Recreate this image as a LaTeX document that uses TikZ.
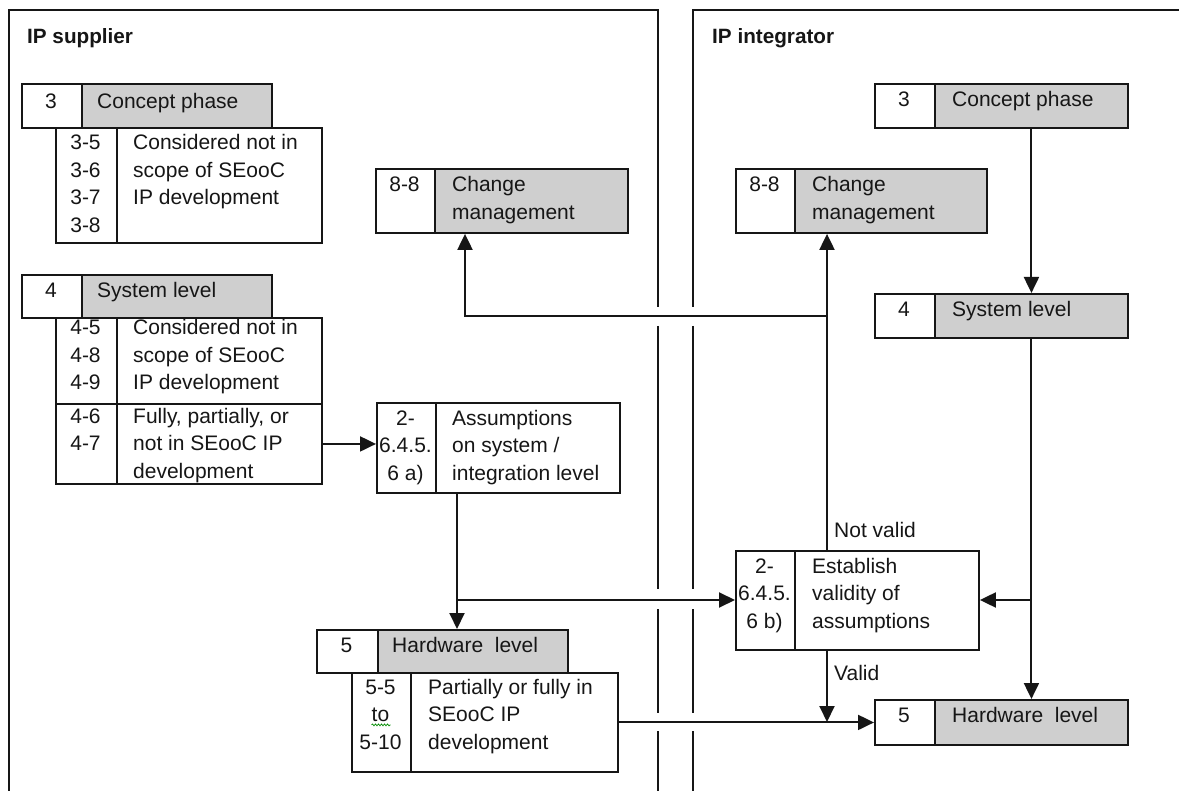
\documentclass[tikz,border=0pt]{standalone}
\usepackage{fontspec}
\setmainfont{Liberation Sans}
\usetikzlibrary{arrows.meta,decorations.pathmorphing}
\definecolor{boxgray}{RGB}{207,207,207}
\definecolor{ink}{RGB}{22,22,22}
\tikzset{
  cell/.style={draw=ink, line width=1.9pt, inner sep=0pt, anchor=north west, fill=white},
  gcell/.style={cell, fill=boxgray},
  txt/.style={inner sep=0pt, text=ink, font=\fontsize{21}{24}\selectfont},
  ttl/.style={txt, font=\fontsize{20.7}{24}\selectfont\bfseries},
  arr/.style={draw=ink, line width=2pt, -{Triangle[length=16pt,width=15pt]}},
  ln/.style={draw=ink, line width=1.7pt},
}
% \cell{name}{x1}{y1}{x2}{y2}{style}
\newcommand\cell[6]{\node[#6, minimum width={#4-#2}, minimum height={#5-#3}] (#1) at (#2,#3) {};}
% \tlines{name}{anchor}{x}{first cap-centre y}{lines}
\newcommand\tlines[5]{\foreach \mytext [count=\myi] in {#5}{\node[txt, anchor=#2] (#1-\myi) at (#3,{#4+7.4+27.5*(\myi-1)}) {\mytext};}}
\begin{document}
\begin{tikzpicture}[x=1pt,y=-1pt]
\useasboundingbox (0,0) rectangle (1179,791);
\fill[white] (0,0) rectangle (1179,791);

% panels
\draw[ln] (9,791) -- (9,10) -- (658,10) -- (658,307);
\draw[ln] (658,326) -- (658,589);
\draw[ln] (658,609) -- (658,713);
\draw[ln] (658,731) -- (658,791);
\draw[ln] (693,307) -- (693,10) -- (1179,10);
\draw[ln] (693,326) -- (693,589);
\draw[ln] (693,609) -- (693,713);
\draw[ln] (693,731) -- (693,791);
\node[ttl, anchor=base west] (tsup) at (27,44) {IP supplier};
\node[ttl, anchor=base west] (tint) at (712,44) {IP integrator};

% ---------- IP supplier ----------
\cell{L3n}{21}{83}{81}{127}{cell}
\cell{L3t}{81}{83}{271}{127}{gcell}
\cell{L3a}{55}{127}{116}{242}{cell}
\cell{L3b}{116}{127}{321}{242}{cell}
\node[txt, anchor=base] (L3nT) at (51,108.9) {3};
\node[txt, anchor=base west] (L3tT) at (97,108.9) {Concept phase};
\tlines{L3aT}{base}{85.5}{142.5}{3-5,3-6,3-7,3-8}
\tlines{L3bT}{base west}{133}{142.5}{Considered not in,scope of SEooC,IP development}

\cell{L4n}{21}{274}{81}{317}{cell}
\cell{L4t}{81}{274}{271}{317}{gcell}
\cell{L4a}{55}{317}{116}{403}{cell}
\cell{L4b}{116}{317}{321}{403}{cell}
\cell{L4c}{55}{403}{116}{483}{cell}
\cell{L4d}{116}{403}{321}{483}{cell}
\node[txt, anchor=base] (L4nT) at (51,297.9) {4};
\node[txt, anchor=base west] (L4tT) at (97,297.9) {System level};
\tlines{L4aT}{base}{85.5}{327.5}{4-5,4-8,4-9}
\tlines{L4bT}{base west}{133}{327.5}{Considered not in,scope of SEooC,IP development}
\tlines{L4cT}{base}{85.5}{416}{4-6,4-7}
\tlines{L4dT}{base west}{133}{416}{{Fully, partially, or},not in SEooC IP,development}

\cell{Cn}{375}{168}{434}{232}{cell}
\cell{Ct}{434}{168}{627}{232}{gcell}
\tlines{CnT}{base}{404.5}{184.5}{8-8}
\tlines{CtT}{base west}{452}{184.5}{Change,management}

\cell{An}{376}{402}{435}{492}{cell}
\cell{At}{435}{402}{619}{492}{cell}
\tlines{AnT}{base}{405.5}{418}{2-,6.4.5.,6 a)}
\tlines{AtT}{base west}{452}{418}{Assumptions,on system /,integration level}

\cell{LHn}{316}{629}{377}{672}{cell}
\cell{LHt}{377}{629}{567}{672}{gcell}
\cell{LHa}{351}{672}{410}{771}{cell}
\cell{LHb}{410}{672}{617}{771}{cell}
\node[txt, anchor=base] (LHnT) at (346.5,652.4) {5};
\node[txt, anchor=base west] (LHtT) at (392,652.4) {Hardware\ \ level};
\tlines{LHaT}{base}{380.5}{687}{5-5,to,5-10}
\tlines{LHbT}{base west}{428}{687}{Partially or fully in,SEooC IP,development}
\draw[green!55!black, line width=0.7pt, decorate, decoration={snake, amplitude=0.9pt, segment length=3pt}] (LHaT-2.base west) ++(0,3) -- ++(19,0);

% ---------- IP integrator ----------
\cell{R3n}{874}{83}{934}{127}{cell}
\cell{R3t}{934}{83}{1127}{127}{gcell}
\node[txt, anchor=base] (R3nT) at (904,106.9) {3};
\node[txt, anchor=base west] (R3tT) at (952,106.9) {Concept phase};

\cell{Rn}{735}{168}{794}{232}{cell}
\cell{Rt}{794}{168}{986}{232}{gcell}
\tlines{RnT}{base}{764.5}{184.5}{8-8}
\tlines{RtT}{base west}{812}{184.5}{Change,management}

\cell{R4n}{874}{293}{934}{337}{cell}
\cell{R4t}{934}{293}{1127}{337}{gcell}
\node[txt, anchor=base] (R4nT) at (904,316.9) {4};
\node[txt, anchor=base west] (R4tT) at (952,316.9) {System level};

\cell{En}{735}{550}{794}{649}{cell}
\cell{Et}{794}{550}{978}{649}{cell}
\tlines{EnT}{base}{764.5}{566}{2-,6.4.5.,6 b)}
\tlines{EtT}{base west}{812}{566}{Establish,validity of,assumptions}

\cell{RHn}{874}{699}{934}{744}{cell}
\cell{RHt}{934}{699}{1127}{744}{gcell}
\node[txt, anchor=base] (RHnT) at (904,722.9) {5};
\node[txt, anchor=base west] (RHtT) at (952,722.9) {Hardware\ \ level};

% ---------- connectors ----------
\coordinate (j1) at (457,600);
\coordinate (j2) at (1030.5,600);
\coordinate (j3) at (827,316);
\coordinate (j4) at (465,316);
\coordinate (j5) at (827,722);

\draw[arr] (L4d.east) -- (An.west |- L4d.east);
\draw[arr] (At.south -| j1) -- (LHt.north -| j1);
\draw[arr] (j1) -- (En.west |- j1);
\draw[arr] (R3t.south) -- (R4t.north);
\draw[arr] (R4t.south) -- (RHt.north);
\draw[arr] (j2) -- (Et.east |- j2);
\draw[arr] (Et.north -| j3) -- (Rt.south -| j3);
\draw[arr] (j3) -- (j4) -- (Ct.south -| j4);
\draw[arr] (Et.south -| j3) -- (j5);
\draw[arr] (LHb.east) -- (RHn.west);

\node[txt, anchor=base west] (lnv) at (834,537.4) {Not valid};
\node[txt, anchor=base west] (lv) at (834,680.4) {Valid};
\end{tikzpicture}
\end{document}
